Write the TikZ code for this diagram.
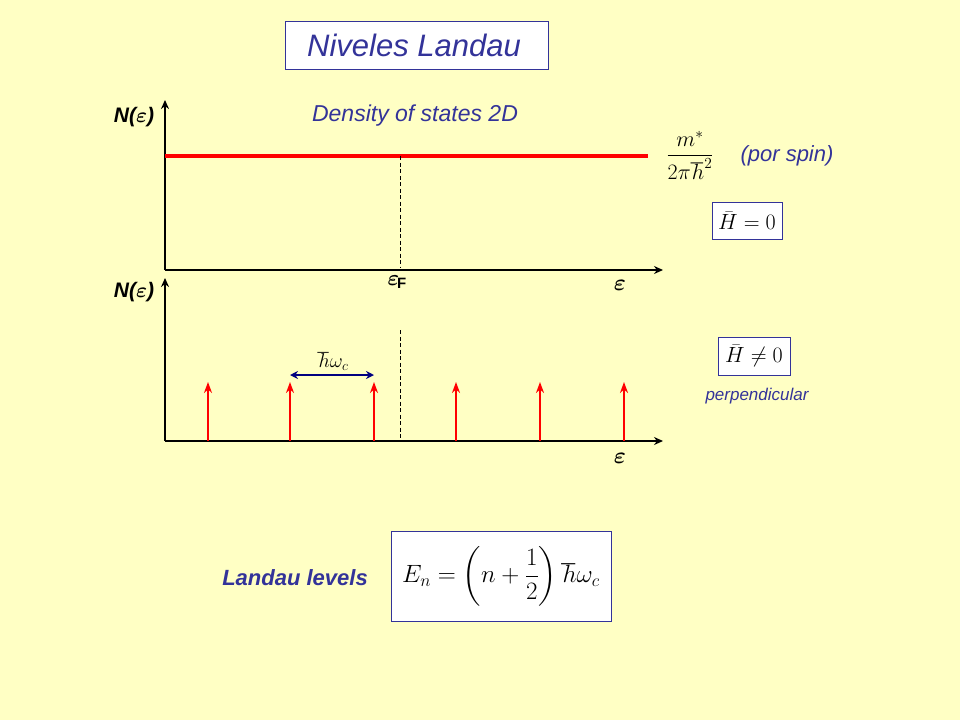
\RequirePackage{fix-cm}
\documentclass[tikz,border=0pt]{standalone}
\usepackage{amsmath}
\usepackage{bm}
\usepackage{fontspec}
\setmainfont{Liberation Sans}
\usetikzlibrary{arrows.meta}
\definecolor{bg}{HTML}{FFFFC4}
\definecolor{tblue}{HTML}{333399}
\definecolor{dblue}{HTML}{000080}
\begin{document}
\begin{tikzpicture}[x=1pt,y=-1pt,
  ax/.style={line width=2.8pt,-{Stealth[length=9pt,width=8pt]}},
  lvl/.style={red,line width=2pt,-{Stealth[length=11pt,width=8pt]}},
  dsh/.style={line width=0.8pt,dash pattern=on 4pt off 2.5pt},
  bx/.style={draw=tblue,fill=white,line width=0.8pt},
  lbl/.style={font=\bfseries\itshape\fontsize{21}{25}\selectfont}]
\fill[bg] (0,0) rectangle (960,720);
\useasboundingbox (0,0) rectangle (960,720);
\node[bx,minimum width=263pt,minimum height=48pt] (title) at (416.5,45) {};
\node[tblue,font=\itshape\fontsize{31}{36}\selectfont] (tt) at (414,45) {Niveles Landau};
% top axes
\coordinate (o1) at (165,270);
\coordinate (y1) at (165,100);
\coordinate (x1) at (663,270);
\draw[ax] (o1) -- (y1);
\draw[ax] (o1) -- (x1);
\coordinate (r1) at (165,156);
\coordinate (r2) at (648,156);
\draw[red,line width=3.8pt] (r1) -- (r2);
\coordinate (f1) at (400,156);
\coordinate (f2) at (400,268);
\draw[dsh] (f1) -- (f2);
\node[lbl] (n1) at (134,117) {N($\bm{\varepsilon}$)};
\node[tblue,font=\itshape\fontsize{23}{27}\selectfont] (dos) at (415,116) {Density of states 2D};
\node[font=\fontsize{22}{26}\selectfont] (frac) at (690,155) {$\dfrac{m^{*}}{2\pi\hbar^{2}}$};
\node[tblue,font=\itshape\fontsize{22}{26}\selectfont] (ps) at (787,156) {(por spin)};
\node[bx,font=\fontsize{22}{26}\selectfont,inner sep=2pt,minimum width=70pt,minimum height=37pt] (h0) at (747,221) {$\bar{H}=0$};
\node[font=\bfseries\fontsize{22}{26}\selectfont,inner sep=0pt] (ef) at (397,282) {$\bm{\varepsilon}$\kern-2pt\raisebox{-3pt}{\fontsize{15}{18}\selectfont F}};
\node[font=\fontsize{23}{27}\selectfont] (e1) at (620,285) {$\bm{\varepsilon}$};
% bottom axes
\coordinate (o2) at (165,441);
\coordinate (y2) at (165,278);
\coordinate (x2) at (663,441);
\draw[ax] (o2) -- (y2);
\draw[ax] (o2) -- (x2);
\coordinate (g1) at (400,330);
\coordinate (g2) at (400,439);
\draw[dsh] (g1) -- (g2);
\node[lbl] (n2) at (134,292) {N($\bm{\varepsilon}$)};
\foreach \i/\x in {1/208,2/290,3/374,4/456,5/540,6/624}{
  \coordinate (a\i) at (\x,441);
  \coordinate (b\i) at (\x,382);
  \draw[lvl] (a\i) -- (b\i);
}
\coordinate (d1) at (290,375);
\coordinate (d2) at (374,375);
\draw[dblue,line width=2.2pt,{Stealth[length=8pt,width=8pt]}-{Stealth[length=8pt,width=8pt]}] (d1) -- (d2);
\node[font=\fontsize{20}{24}\selectfont] (hw) at (333,361) {$\hbar\omega_{c}$};
\node[font=\fontsize{23}{27}\selectfont] (e2) at (620,458) {$\bm{\varepsilon}$};
\node[bx,font=\fontsize{22}{26}\selectfont,inner sep=2pt,minimum width=72pt,minimum height=38pt] (h1) at (754,356) {$\bar{H}\neq0$};
\node[tblue,font=\itshape\fontsize{17}{20}\selectfont] (perp) at (757,396) {perpendicular};
% Landau levels
\node[tblue,font=\bfseries\itshape\fontsize{22}{26}\selectfont] (ll) at (295,578) {Landau levels};
\node[bx,minimum width=220pt,minimum height=90pt] (eqb) at (501,576) {};
\node[font=\fontsize{25}{30}\selectfont] (eq) at (501,576) {$E_{n}=\left(n+\dfrac{1}{2}\right)\hbar\omega_{c}$};
\end{tikzpicture}
\end{document}
